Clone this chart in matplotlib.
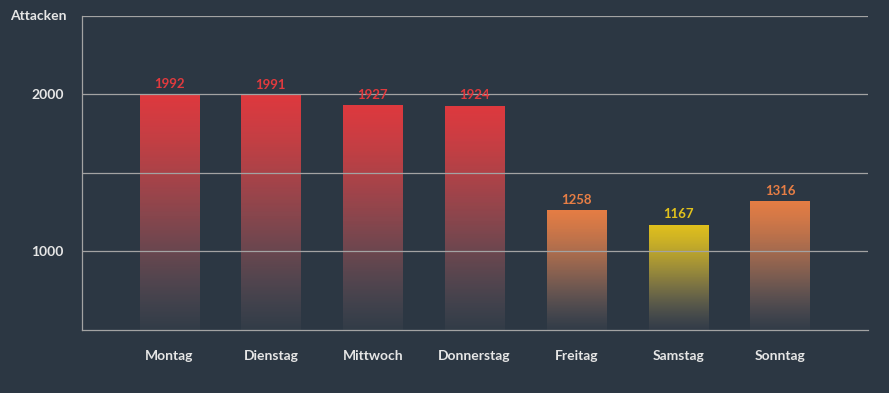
import matplotlib
matplotlib.use("Agg")
import matplotlib.pyplot as plt
import numpy as np
from matplotlib.colors import to_rgb

categories = ["Montag", "Dienstag", "Mittwoch", "Donnerstag", "Freitag", "Samstag", "Sonntag"]
values = [1992, 1991, 1927, 1924, 1258, 1167, 1316]
bar_colors = ["#e03a3e", "#e03a3e", "#e03a3e", "#e03a3e", "#e77e45", "#e2c21c", "#e77e45"]
y_ticks = [1000, 2000]
y_label = "Attacken"

BG = "#2c3743"
GRID = "#a3a3a3"
TXT = "#e6e6e6"
plt.rcParams['font.family'] = ['Lato', 'DejaVu Sans']

fig = plt.figure(figsize=(8.89, 3.93), dpi=100, facecolor=BG)
ax = fig.add_axes([82/889, 1-330/393, (868-82)/889, (330-15.5)/393])
ax.set_facecolor(BG)

ymin, ymax = 500, 2500
ax.set_ylim(ymin, ymax)
ax.set_xlim(-0.855, 6.864)
width = 0.58

gray = np.array(to_rgb("#585860"))
for i, (v, c) in enumerate(zip(values, bar_colors)):
    top = np.array(to_rgb(c))
    n = 256
    f = np.linspace(0, 1, n)[:, None]
    rgb = top * (1 - f) + gray * f
    alpha = 1 - 0.85 * f[:, 0] ** 2.5
    img = np.zeros((n, 1, 4))
    img[:, 0, :3] = rgb
    img[:, 0, 3] = alpha
    ax.imshow(img, extent=[i - width/2, i + width/2, ymin, v], aspect='auto',
              interpolation='bilinear', zorder=1)
    ax.text(i, v + 32, f"{v}", ha='center', va='bottom', color=c,
            fontsize=9.5, fontweight='bold', zorder=4)

for y in [1000, 1500, 2000, 2500]:
    ax.axhline(y, color=GRID, lw=0.9, zorder=2)

ax.set_xticks(range(len(categories)))
ax.set_xticklabels(categories, color=TXT, fontsize=10, fontweight='bold')
ax.set_yticks(y_ticks)
ax.set_yticklabels([str(t) for t in y_ticks], color=TXT, fontsize=10, fontweight='bold')
ax.tick_params(axis='both', length=0)
ax.tick_params(axis='x', pad=14.5)
ax.tick_params(axis='y', pad=13)

for s in ['top', 'right']:
    ax.spines[s].set_visible(False)
for s in ['left', 'bottom']:
    ax.spines[s].set_color(GRID)
    ax.spines[s].set_linewidth(0.9)

fig.text(10/889, 1-16/393, y_label, color=TXT, fontsize=10, fontweight='bold',
         ha='left', va='center')

fig.savefig("out.png", dpi=100, facecolor=BG)
